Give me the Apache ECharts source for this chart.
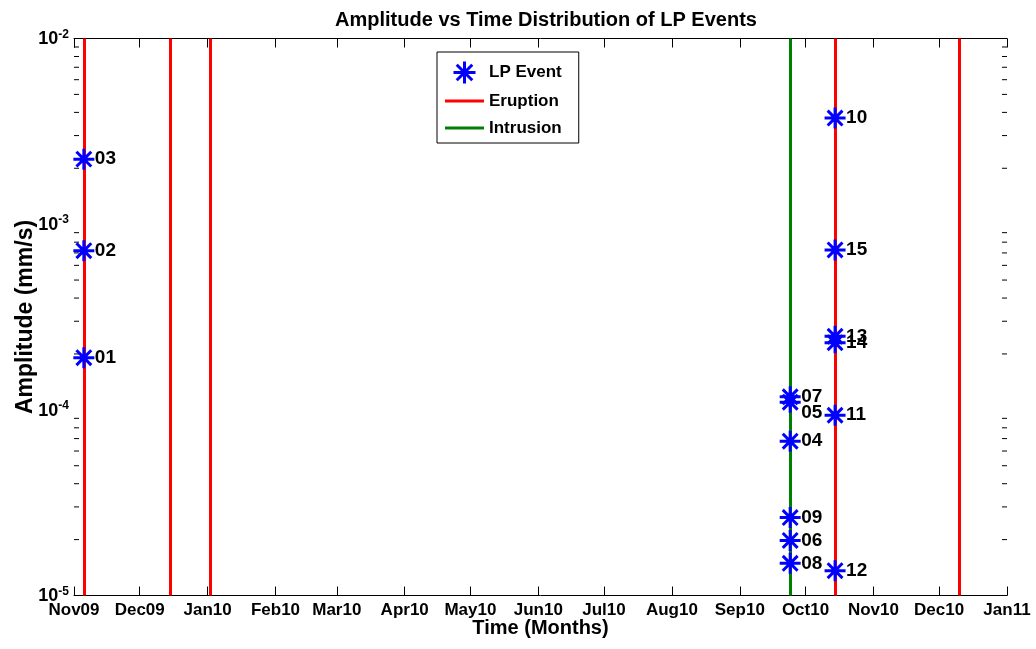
<!DOCTYPE html>
<html lang="en">
<head>
    <meta charset="UTF-8">
    <title>Amplitude vs Time Distribution of LP Events</title>
    <style>
        html, body { margin: 0; padding: 0; background: #fff; }
    </style>
</head>
<body>
    <div id="main" style="width:1036px;height:649px;"></div>
</body>
<script src="https://cdn.jsdelivr.net/npm/echarts@6/dist/echarts.min.js"></script>
<script>
    // LP events: id, date, amplitude (mm/s)
    var eventIds = ['01', '02', '03', '04', '05', '06', '07', '08', '09', '10', '11', '12', '13', '14', '15'];
    var eventDates = ['2009-11-05 12:00', '2009-11-05 12:00', '2009-11-05 12:00',
        '2010-09-24', '2010-09-24', '2010-09-24', '2010-09-24', '2010-09-24', '2010-09-24',
        '2010-10-14 12:00', '2010-10-14 12:00', '2010-10-14 12:00', '2010-10-14 12:00', '2010-10-14 12:00', '2010-10-14 12:00'];
    var eventAmps = [1.91e-4, 7.2e-4, 2.24e-3,
        6.78e-5, 1.10e-4, 1.98e-5, 1.175e-4, 1.49e-5, 2.63e-5,
        3.73e-3, 9.35e-5, 1.36e-5, 2.49e-4, 2.30e-4, 7.26e-4];

    var eruptionDates = ['2009-11-05 12:00', '2009-12-15', '2010-01-02', '2010-10-14 12:00', '2010-12-10'];
    var intrusionDates = ['2010-09-24'];

    var monthNames = ['Jan', 'Feb', 'Mar', 'Apr', 'May', 'Jun', 'Jul', 'Aug', 'Sep', 'Oct', 'Nov', 'Dec'];

    var xMin = +new Date(2009, 10, 1);
    var xMax = +new Date(2011, 0, 1);
    var yMin = 1e-5;
    var yMax = 1e-2;

    // log minor ticks 2..9 x 10^k
    var minorTicks = [];
    for (var k = -5; k < -2; k++) {
        for (var m = 2; m <= 9; m++) {
            minorTicks.push([xMin, m * Math.pow(10, k)]);
        }
    }

    var starPath = 'path://M10,0V20M0,10H20M2.93,2.93L17.07,17.07M2.93,17.07L17.07,2.93';
    var linePath = 'path://M0,0H40V3H0Z';
    var font = 'Liberation Sans, Arial, Helvetica, sans-serif';

    var eventData = eventIds.map(function (id, i) {
        return { name: id, value: [eventDates[i], eventAmps[i]] };
    });

    var main = echarts.init(document.getElementById('main'));

    function monthLabel(val) {
        var d = new Date(val);
        return monthNames[d.getMonth()] + String(d.getFullYear()).slice(2);
    }

    var logLabel = {
        margin: 5,
        formatter: function (v) {
            var e = Math.round(Math.log10(v));
            return '{b|10}{s|' + e + '}';
        },
        rich: {
            b: { fontSize: 18, fontWeight: 'bold', fontFamily: font, color: '#000', lineHeight: 20, verticalAlign: 'bottom' },
            s: { fontSize: 12, fontWeight: 'bold', fontFamily: font, color: '#000', lineHeight: 12, verticalAlign: 'top' }
        }
    };

    var option = {
        backgroundColor: '#fff',
        animation: false,
        textStyle: { fontFamily: font },
        title: {
            text: 'Amplitude vs Time Distribution of LP Events',
            left: 541,
            textAlign: 'center',
            top: 5,
            textStyle: { fontSize: 20, fontWeight: 'bold', color: '#000', fontFamily: font }
        },
        grid: { left: 74, right: 29, top: 38.5, bottom: 53.5, containLabel: false },
        legend: {
            left: 437,
            top: 52,
            orient: 'vertical',
            backgroundColor: '#fff',
            borderColor: '#000',
            borderWidth: 1,
            padding: [8, 17, 4, 8],
            itemWidth: 39,
            itemHeight: 22,
            itemGap: 5,
            selectedMode: false,
            textStyle: { fontSize: 17, fontWeight: 'bold', color: '#000', fontFamily: font, lineHeight: 22 },
            data: [
                { name: 'LP Event', icon: starPath, itemStyle: { color: 'blue', borderColor: 'blue', borderWidth: 3, opacity: 1 } },
                { name: 'Eruption', icon: linePath, itemStyle: { color: 'red', borderWidth: 0 } },
                { name: 'Intrusion', icon: linePath, itemStyle: { color: 'green', borderWidth: 0 } }
            ]
        },
        xAxis: [{
            type: 'time',
            min: xMin,
            max: xMax,
            minInterval: 28 * 86400000,
            maxInterval: 31 * 86400000,
            name: 'Time (Months)',
            nameLocation: 'middle',
            nameGap: 23,
            nameMoveOverlap: false,
            nameTextStyle: { fontSize: 20, fontWeight: 'bold', color: '#000', fontFamily: font },
            axisLine: { onZero: false, lineStyle: { color: '#000', width: 1 } },
            axisTick: { inside: true, length: 9, lineStyle: { color: '#000' } },
            axisLabel: {
                color: '#000', fontSize: 17, fontWeight: 'bold', fontFamily: font, margin: 6,
                showMinLabel: true, showMaxLabel: true,
                formatter: monthLabel
            },
            splitLine: { show: false }
        }, {
            type: 'time',
            position: 'top',
            min: xMin,
            max: xMax,
            minInterval: 28 * 86400000,
            maxInterval: 31 * 86400000,
            axisLine: { onZero: false, lineStyle: { color: '#000', width: 1 } },
            axisTick: { inside: true, length: 9, lineStyle: { color: '#000' } },
            axisLabel: { show: false },
            splitLine: { show: false }
        }],
        yAxis: [{
            type: 'log',
            logBase: 10,
            min: yMin,
            max: yMax,
            name: 'Amplitude (mm/s)',
            nameLocation: 'middle',
            nameGap: 37,
            nameMoveOverlap: false,
            nameTextStyle: { fontSize: 23, fontWeight: 'bold', color: '#000', fontFamily: font },
            axisLine: { onZero: false, lineStyle: { color: '#000', width: 1 } },
            axisTick: { inside: true, length: 9, lineStyle: { color: '#000' } },
            axisLabel: logLabel,
            splitLine: { show: false }
        }, {
            type: 'log',
            logBase: 10,
            min: yMin,
            max: yMax,
            position: 'right',
            axisLine: { onZero: false, lineStyle: { color: '#000', width: 1 } },
            axisTick: { inside: true, length: 9, lineStyle: { color: '#000' } },
            axisLabel: { show: false },
            splitLine: { show: false }
        }],
        series: [{
            name: 'Minor ticks',
            type: 'custom',
            silent: true,
            xAxisIndex: 0,
            yAxisIndex: 0,
            clip: false,
            renderItem: function (params, api) {
                var v = api.value(1);
                var l = api.coord([xMin, v]);
                var r = api.coord([xMax, v]);
                return {
                    type: 'group',
                    children: [
                        { type: 'line', shape: { x1: l[0], y1: l[1], x2: l[0] + 5, y2: l[1] }, style: { stroke: '#000', lineWidth: 1 } },
                        { type: 'line', shape: { x1: r[0], y1: r[1], x2: r[0] - 5, y2: r[1] }, style: { stroke: '#000', lineWidth: 1 } }
                    ]
                };
            },
            data: minorTicks
        }, {
            name: 'Eruption',
            type: 'line',
            data: [],
            color: 'red',
            markLine: {
                silent: true,
                symbol: 'none',
                label: { show: false },
                lineStyle: { color: 'red', width: 3, type: 'solid' },
                data: eruptionDates.map(function (d) { return { xAxis: d }; })
            }
        }, {
            name: 'Intrusion',
            type: 'line',
            data: [],
            color: 'green',
            markLine: {
                silent: true,
                symbol: 'none',
                label: { show: false },
                lineStyle: { color: 'green', width: 3, type: 'solid' },
                data: intrusionDates.map(function (d) { return { xAxis: d }; })
            }
        }, {
            name: 'LP Event',
            type: 'scatter',
            z: 5,
            symbol: starPath,
            symbolSize: 21,
            itemStyle: { color: 'blue', borderColor: 'blue', borderWidth: 3, opacity: 1 },
            label: {
                show: true,
                position: 'right',
                distance: -1,
                formatter: '{b}',
                color: '#000',
                fontSize: 19,
                fontWeight: 'bold',
                fontFamily: font
            },
            labelLayout: function (params) {
                // "05" sits just under "07" in the original
                if (eventIds[params.dataIndex] === '05') {
                    return { hideOverlap: false, dy: 11 };
                }
                return { hideOverlap: false };
            },
            data: eventData
        }]
    };
    main.setOption(option);
</script>
</html>
